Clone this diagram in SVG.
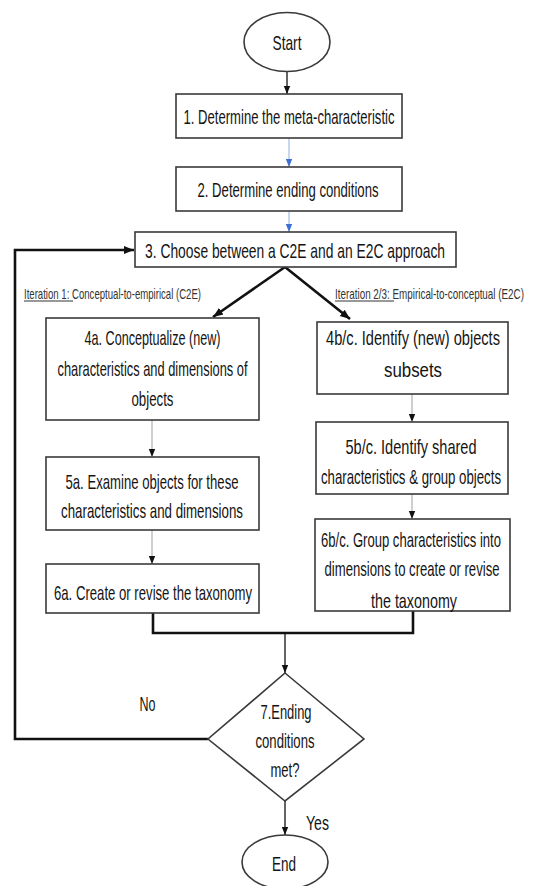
<svg xmlns="http://www.w3.org/2000/svg" width="533" height="886" viewBox="0 0 533 886">
<defs>
<style>
.bg{fill:#fff}
.box{fill:#fff;stroke:#3a3a3a;stroke-width:1.6}
.t{font-family:"Liberation Sans Narrow","Liberation Sans",Arial,sans-serif;font-size:21px;fill:#141414;text-anchor:middle}
.lbl{font-family:"Liberation Sans Narrow","Liberation Sans",Arial,sans-serif;font-size:15px;fill:#333}
.thick{fill:none;stroke:#111;stroke-width:2.6}
.thin{fill:none;stroke:#111;stroke-width:1.3}
.gray{fill:none;stroke:#b5b5b5;stroke-width:1.3}
.blue{fill:none;stroke:#a9c0ea;stroke-width:1.3}
.ul{stroke:#333;stroke-width:1}
</style>
<marker id="ab" markerUnits="userSpaceOnUse" markerWidth="8" markerHeight="8" viewBox="0 0 8 8" refX="8" refY="4" orient="auto"><path d="M0,0.8 L8,4 L0,7.2 Z" fill="#111"/></marker>
<marker id="abl" markerUnits="userSpaceOnUse" markerWidth="8" markerHeight="8" viewBox="0 0 8 8" refX="8" refY="4" orient="auto"><path d="M0,0.8 L8,4 L0,7.2 Z" fill="#3d6fd6"/></marker>
<marker id="abt" markerUnits="userSpaceOnUse" markerWidth="10" markerHeight="10" viewBox="0 0 10 10" refX="10" refY="5" orient="auto"><path d="M0,1 L10,5 L0,9 Z" fill="#111"/></marker>
</defs>
<rect class="bg" x="0" y="0" width="533" height="886"/>

<g id="connectors">
<line class="thin" x1="287" y1="71" x2="287" y2="94" marker-end="url(#ab)"/>
<line class="blue" x1="289" y1="138" x2="289" y2="167" marker-end="url(#abl)"/>
<line class="blue" x1="289" y1="211" x2="289" y2="232" marker-end="url(#abl)"/>
<polyline class="thick" points="208,739 15,739 15,250 134,250" marker-end="url(#abt)"/>
<line class="thick" x1="285" y1="267" x2="213" y2="317" marker-end="url(#abt)"/>
<line class="thick" x1="285" y1="267" x2="350" y2="319" marker-end="url(#abt)"/>
<line class="gray" x1="152" y1="420" x2="152" y2="457" marker-end="url(#ab)"/>
<line class="gray" x1="152" y1="530" x2="152" y2="564" marker-end="url(#ab)"/>
<line class="gray" x1="412" y1="394" x2="412" y2="422" marker-end="url(#ab)"/>
<line class="gray" x1="412" y1="494" x2="412" y2="519" marker-end="url(#ab)"/>
<polyline class="thick" points="153,613 153,633 413,633 413,611"/>
<line class="thin" x1="285" y1="633" x2="285" y2="673" marker-end="url(#ab)"/>
<line class="thin" x1="285" y1="801" x2="285" y2="835" stroke-width="2" marker-end="url(#ab)"/>
</g>

<g id="start">
<ellipse class="box" cx="287" cy="42" rx="43" ry="29.5"/>
<text class="t" x="287" y="49.5" textLength="29" lengthAdjust="spacingAndGlyphs">Start</text>
</g>

<g id="step1">
<rect class="box" x="176" y="94" width="226" height="44"/>
<text class="t" x="289" y="123.5" textLength="211" lengthAdjust="spacingAndGlyphs">1. Determine the meta-characteristic</text>
</g>

<g id="step2">
<rect class="box" x="176" y="167" width="226" height="44"/>
<text class="t" x="288" y="196.5" textLength="181" lengthAdjust="spacingAndGlyphs">2. Determine ending conditions</text>
</g>

<g id="step3">
<rect class="box" x="135" y="232" width="321" height="35"/>
<text class="t" x="295" y="257.5" textLength="300" lengthAdjust="spacingAndGlyphs">3. Choose between a C2E and an E2C approach</text>
</g>

<g id="label-c2e">
<text class="lbl" x="24" y="298.5" textLength="177" lengthAdjust="spacingAndGlyphs">Iteration 1: Conceptual-to-empirical  (C2E)</text>
<line class="ul" x1="24" y1="301" x2="73" y2="301"/>
</g>

<g id="label-e2c">
<text class="lbl" x="335" y="298.5" textLength="189" lengthAdjust="spacingAndGlyphs">Iteration 2/3: Empirical-to-conceptual  (E2C)</text>
<line class="ul" x1="335" y1="301" x2="394" y2="301"/>
</g>

<g id="step4a">
<rect class="box" x="46" y="318" width="213" height="102"/>
<text class="t" x="152.5" y="344.5" textLength="136" lengthAdjust="spacingAndGlyphs">4a. Conceptualize (new)</text>
<text class="t" x="152.5" y="375.5" textLength="190" lengthAdjust="spacingAndGlyphs">characteristics and dimensions of</text>
<text class="t" x="152.5" y="405.5" textLength="42" lengthAdjust="spacingAndGlyphs">objects</text>
</g>

<g id="step5a">
<rect class="box" x="46" y="457" width="213" height="73"/>
<text class="t" x="152" y="488.5" textLength="173" lengthAdjust="spacingAndGlyphs">5a. Examine objects for these</text>
<text class="t" x="152" y="517.5" textLength="182" lengthAdjust="spacingAndGlyphs">characteristics and dimensions</text>
</g>

<g id="step6a">
<rect class="box" x="46" y="564" width="213" height="49"/>
<text class="t" x="153" y="599.5" textLength="198" lengthAdjust="spacingAndGlyphs">6a. Create or revise the taxonomy</text>
</g>

<g id="step4b">
<rect class="box" x="317" y="322" width="191" height="72"/>
<text class="t" x="413" y="344.5" textLength="174" lengthAdjust="spacingAndGlyphs">4b/c. Identify (new) objects</text>
<text class="t" x="413" y="376.5" textLength="58" lengthAdjust="spacingAndGlyphs">subsets</text>
</g>

<g id="step5b">
<rect class="box" x="316" y="422" width="192" height="72"/>
<text class="t" x="411" y="453.5" textLength="131" lengthAdjust="spacingAndGlyphs">5b/c. Identify shared</text>
<text class="t" x="411" y="483.5" textLength="180" lengthAdjust="spacingAndGlyphs">characteristics &amp; group objects</text>
</g>

<g id="step6b">
<rect class="box" x="315" y="519" width="195" height="92"/>
<text class="t" x="411" y="546.5" textLength="180" lengthAdjust="spacingAndGlyphs">6b/c. Group characteristics into</text>
<text class="t" x="412" y="575.5" textLength="175" lengthAdjust="spacingAndGlyphs">dimensions to create or revise</text>
<text class="t" x="414" y="607.5" textLength="86" lengthAdjust="spacingAndGlyphs">the taxonomy</text>
</g>

<g id="decision">
<polygon class="box" points="285,673 364,739 285,801 208,739"/>
<text class="t" x="286" y="718.5" textLength="51" lengthAdjust="spacingAndGlyphs">7.Ending</text>
<text class="t" x="285" y="747.5" textLength="59" lengthAdjust="spacingAndGlyphs">conditions</text>
<text class="t" x="285" y="776.5" textLength="29" lengthAdjust="spacingAndGlyphs">met?</text>
<text class="t" x="147.5" y="710.5" textLength="16" lengthAdjust="spacingAndGlyphs">No</text>
<text class="t" x="317.5" y="829.5" textLength="23" lengthAdjust="spacingAndGlyphs">Yes</text>
</g>

<g id="end">
<ellipse class="box" cx="285" cy="862" rx="43" ry="27"/>
<text class="t" x="284" y="870.5" textLength="24" lengthAdjust="spacingAndGlyphs">End</text>
</g>
</svg>
